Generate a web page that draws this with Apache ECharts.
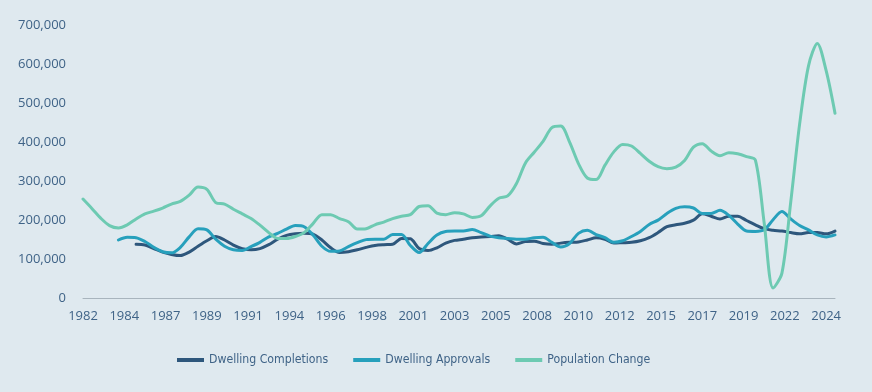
<!DOCTYPE html>
<html>
<head>
<meta charset="utf-8">
<script src="https://cdn.jsdelivr.net/npm/echarts@6/dist/echarts.min.js"></script>
<style>
html,body{margin:0;padding:0;background:#dfe9ef;}
#chart{width:872px;height:392px;}
</style>
</head>
<body>
<div id="chart"></div>
<script>
// Half-yearly samples starting June 1982 (x value = months since Jun 1982)
const stepMonths = 6;
const xTickLabels = ['1982','1984','1987','1989','1991','1994','1996','1998','2001','2003','2005','2008','2010','2012','2015','2017','2019','2022','2024'];
const seriesNames = ['Dwelling Completions','Dwelling Approvals','Population Change'];

const completions = [null,null,null,null,null,null,
139000,137000,128000,119000,113000,110000,119000,134000,148000,159000,
150000,137000,128000,125000,128000,138000,152000,162000,166000,167000,
165000,150000,130000,118000,120000,125000,131000,136000,138000,139000,
154000,153000,128000,123000,130000,142000,149000,152000,156000,158000,
159000,161000,152000,140000,146000,147000,141000,139000,142000,144000,
145000,150000,156000,152000,142000,143000,144000,148000,156000,169000,
184000,189000,193000,201000,217000,211000,204000,211000,211000,200000,
189000,179000,175000,173000,169000,166000,169000,169000,166000,173000];

const approvals = [null,null,null,null,
150000,157000,156000,146000,131000,120000,117000,131000,158000,179000,
176000,152000,134000,125000,123000,133000,144000,158000,167000,178000,
187000,184000,163000,134000,121000,122000,133000,143000,151000,152000,
152000,164000,164000,136000,118000,141000,163000,172000,173000,173000,
177000,169000,160000,156000,154000,152000,152000,156000,157000,144000,
132000,141000,167000,175000,164000,156000,144000,148000,159000,172000,
190000,201000,218000,231000,235000,232000,218000,218000,226000,213000,
191000,173000,172000,176000,202000,223000,204000,187000,176000,163000,
158000,163000];

const population = [255000,231000,206000,187000,181000,189000,204000,217000,224000,232000,
242000,249000,265000,286000,280000,246000,242000,229000,217000,205000,
188000,169000,154000,154000,159000,169000,192000,215000,215000,205000,
197000,178000,179000,189000,196000,205000,211000,215000,236000,238000,
219000,215000,220000,217000,208000,212000,237000,257000,263000,295000,
347000,375000,403000,438000,442000,401000,346000,309000,305000,342000,
376000,395000,391000,372000,352000,338000,333000,337000,354000,388000,
397000,378000,366000,374000,371000,364000,355000,193000,27000,65000,
248000,447000,596000,654000,584000,475000];

const colors = ['#2e577c','#27a0bc','#6dcab2'];

function toPairs(arr){
  const out = [];
  arr.forEach((v,i)=>{ if(v!==null) out.push([i*stepMonths, v]); });
  return out;
}
const allData = [completions, approvals, population];

const chart = echarts.init(document.getElementById('chart'), null, {renderer:'canvas'});
chart.setOption({
  backgroundColor:'#dfe9ef',
  animation:false,
  color: colors,
  grid:{left:83,right:37,top:25.5,bottom:93.5,containLabel:false},
  xAxis:{
    type:'value',
    min:0,
    max:510,
    interval:28,
    axisLine:{show:true,lineStyle:{color:'#a8b4bd',width:1}},
    axisTick:{show:false},
    splitLine:{show:false},
    axisLabel:{
      color:'#3f6387',
      fontFamily:'Open Sans',
      fontSize:13,
      margin:11,
      showMaxLabel:false,
      formatter:function(v){ const k=Math.round(v/28); return (Math.abs(v-k*28)<0.01 && xTickLabels[k]) ? xTickLabels[k] : ''; }
    }
  },
  yAxis:{
    type:'value',
    min:0,
    max:700000,
    interval:100000,
    axisLine:{show:false},
    axisTick:{show:false},
    splitLine:{show:false},
    axisLabel:{
      color:'#3f6387',
      fontFamily:'Open Sans',
      fontSize:13,
      margin:17,
      formatter:function(v){ return v.toLocaleString('en-US'); }
    }
  },
  legend:{
    left:172,
    top:349,
    icon:'rect',
    itemWidth:27,
    itemHeight:4,
    itemGap:25,
    itemStyle:{borderWidth:0},
    textStyle:{color:'#3f6387',fontFamily:"'Liberation Sans Narrow', 'DejaVu Sans Condensed', 'Open Sans'",fontSize:12.2},
    data:seriesNames
  },
  series: seriesNames.map((name,idx)=>({
    name:name,
    type:'line',
    data:toPairs(allData[idx]),
    showSymbol:false,
    symbol:'none',
    smooth:0.3,
    lineStyle:{width:3,color:colors[idx],cap:'round',join:'round'},
    itemStyle:{color:colors[idx]},
    z: 2+idx
  }))
});
</script>
</body>
</html>
